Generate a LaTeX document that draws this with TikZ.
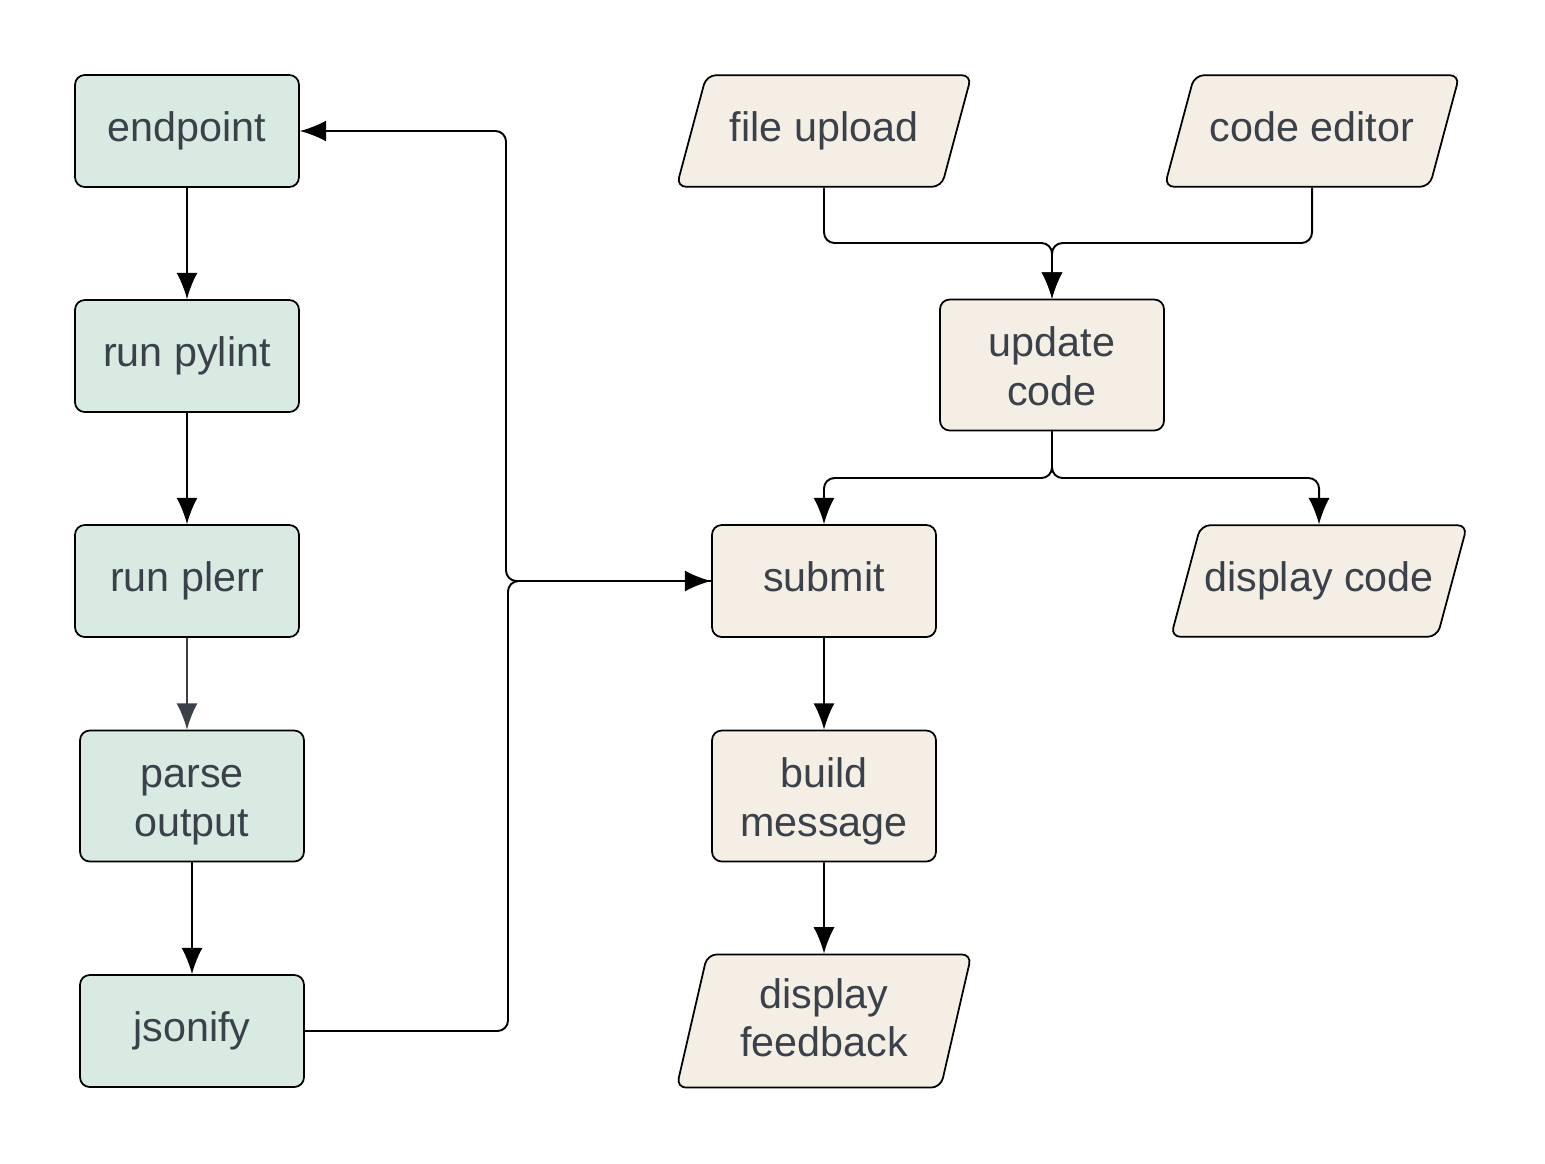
\documentclass[tikz,border=0pt]{standalone}
\usepackage{fontspec}
\setmainfont{Liberation Sans}
\usepackage{tikz}
\usetikzlibrary{arrows.meta,shapes.geometric}

\definecolor{mint}{HTML}{D8EAE2}
\definecolor{sand}{HTML}{F5EEE4}
\definecolor{ink}{HTML}{3A414A}

% two lines of text, with struts so they sit like the single lines
\newcommand{\twolines}[3][5pt]{\rule{0pt}{23pt}#2\\#3\rule[-#1]{0pt}{#1}}

\tikzset{
	box/.style={draw=black,line width=1pt,rounded corners=5.5pt,align=center,text=ink,
		font=\fontsize{23.5}{27.8}\selectfont,inner sep=0pt,
		text height=16.9pt,text depth=4.9pt,
		minimum width=4.48cm,minimum height=2.24cm},
	tall/.style={text height={},text depth={},minimum height=2.62cm},
	gbox/.style={box,fill=mint},
	sbox/.style={box,fill=sand},
	iobox/.style={sbox,trapezium,trapezium left angle=75,trapezium right angle=105,
		trapezium stretches body,minimum width=5.9cm,minimum height=0pt,
		inner xsep=2pt,inner ysep=20.85pt},
	arr/.style={-{Latex[length=15pt,width=12pt]},line width=1.1pt,rounded corners=6pt},
}

\begin{document}
\begin{tikzpicture}[x=0.02cm,y=-0.02cm]
		\useasboundingbox (0,0) rectangle (1545,1163);
		
		% left column
		\node[gbox] (endpoint) at (187,131) {endpoint};
		\node[gbox] (pylint) at (187,356) {run pylint};
		\node[gbox] (plerr) at (187,581) {run plerr};
		\node[gbox,tall] (parse) at (192,796) {\twolines{parse}{output}};
		\node[gbox] (jsonify) at (192,1031) {jsonify};
		
		% right side
		\node[iobox] (upload) at (824,131) {file upload};
		\node[iobox] (editor) at (1312,131) {code editor};
		\node[sbox,tall] (update) at (1052,365) {\twolines{update}{code}};
		\node[sbox] (submit) at (824,581) {submit};
		\node[iobox] (display) at (1319,581) {display code};
		\node[sbox,tall] (build) at (824,796) {\twolines{build}{message}};
		\node[iobox,text height={},text depth={},inner ysep=7.5pt,
			trapezium left angle=77,trapezium right angle=103] (feedback) at (824,1021)
			{\twolines[10pt]{display}{feedback}};
		
		\coordinate (upjoin) at (1052,243);
		\coordinate (downjoin) at (1052,478);
		\coordinate (backbus) at (506,131);
		\coordinate (fwdbus) at (508,581);
		
		\draw[arr] (endpoint) -- (pylint);
		\draw[arr] (pylint) -- (plerr);
		\draw[arr,draw=ink,fill=ink] (plerr.south) -- (plerr.south |- parse.north);
		\draw[arr] (parse) -- (jsonify);
		\draw[arr] (jsonify.east) -| (fwdbus) -- (submit.west);
		\draw[arr] (submit.west) -| (backbus) -- (endpoint.east);
		
		\draw[arr] (upload.south) |- (upjoin) -- (update.north);
		\draw[arr] (editor.south) |- (upjoin) -- (update.north);
		\draw[arr] (update.south) -- (downjoin) -| (submit.north);
		\draw[arr] (update.south) -- (downjoin) -| (display.north);
		\draw[arr] (submit) -- (build);
		\draw[arr] (build) -- (feedback);
	\end{tikzpicture}
\end{document}
